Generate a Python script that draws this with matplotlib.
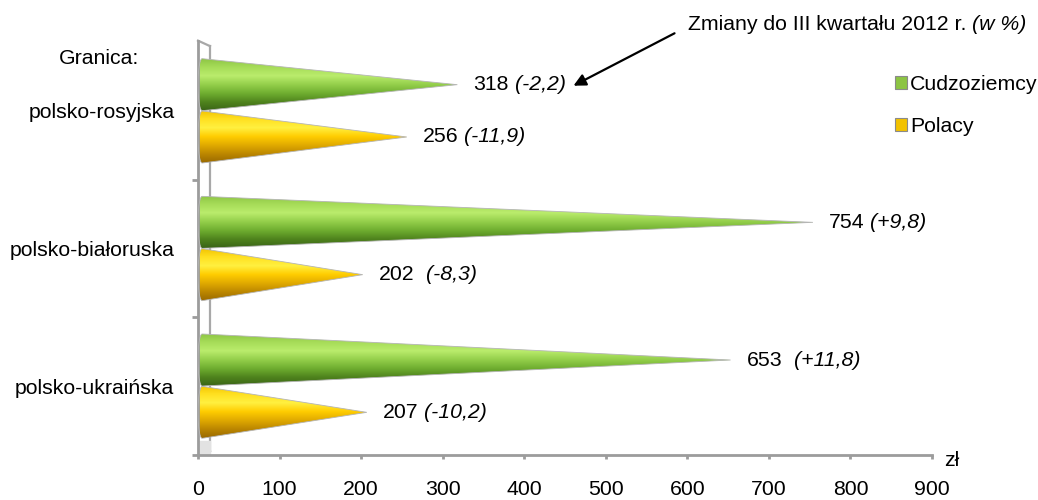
import numpy as np
import matplotlib
matplotlib.use('Agg')
import matplotlib.pyplot as plt
from matplotlib.path import Path
from matplotlib.patches import PathPatch, Patch
from matplotlib.colors import to_rgb

plt.rcParams['font.family'] = ['Liberation Sans', 'DejaVu Sans']

# dane
granice = ['polsko-ukraińska', 'polsko-białoruska', 'polsko-rosyjska']
cudzoziemcy = [653, 754, 318]
polacy = [207, 202, 256]
zmiany_cudz = ['(+11,8)', '(+9,8)', '(-2,2)']
zmiany_pol = ['(-10,2)', '(-8,3)', '(-11,9)']
odstep_cudz = [2, 1, 1]
odstep_pol = [1, 2, 1]
x_ticks = [0, 100, 200, 300, 400, 500, 600, 700, 800, 900]

GREEN = ['#3a6417', '#4f831d', '#6fae30', '#94cf4b', '#baec6c', '#a6dc58', '#8cc443']
YELLOW = ['#9a6a00', '#bb8600', '#e0aa00', '#ffcc00', '#fff040', '#ffe020', '#f2c200']

FS = 15.3
W, H = 1038, 500

fig = plt.figure(figsize=(W / 100, H / 100), dpi=100)
ax = fig.add_axes([198 / W, 1 - 455 / H, (932 - 198) / W, (455 - 42) / H])
ax.set_xlim(0, 900)
ax.set_ylim(-0.5, 2.5)

bh = 0.378
off = 0.19
r = 5.0


def stozek(val, c, colors):
    # trojkat z zaokraglona podstawa
    t = np.linspace(np.pi / 2, 3 * np.pi / 2, 20)
    arc_x = r + r * np.cos(t)
    arc_y = c + bh / 2 * np.sin(t)
    verts = [(val, c)] + list(zip(arc_x, arc_y)) + [(val, c)]
    codes = [Path.MOVETO] + [Path.LINETO] * (len(verts) - 2) + [Path.CLOSEPOLY]
    path = Path(verts, codes)
    patch = PathPatch(path, facecolor='none', edgecolor='#b5b5b5', lw=0.6, zorder=3)
    ax.add_patch(patch)
    cols = np.array([to_rgb(cc) for cc in colors])
    n = 100
    pos = np.linspace(0, 1, len(cols))
    yy = np.linspace(0, 1, n)
    grad = np.stack([np.interp(yy, pos, cols[:, k]) for k in range(3)], axis=-1)
    img = ax.imshow(grad[:, None, :], extent=(0, val, c - bh / 2, c + bh / 2),
                    origin='lower', aspect='auto', interpolation='bilinear', zorder=2)
    img.set_clip_path(patch)


def etykieta(val, c, num, zm, sp):
    t1 = ax.annotate(num, xy=(val, c), xytext=(11.5, 0), textcoords='offset points',
                     ha='left', va='center', fontsize=FS, zorder=5)
    ax.annotate(zm, xy=(1, 0), xycoords=t1, xytext=(4.2 * sp, 0), textcoords='offset points',
                ha='left', va='bottom', fontsize=FS, style='italic', zorder=5)


for i in range(len(granice)):
    stozek(cudzoziemcy[i], i + off, GREEN)
    stozek(polacy[i], i - off, YELLOW)
    etykieta(cudzoziemcy[i], i + off, str(cudzoziemcy[i]), zmiany_cudz[i], odstep_cudz[i])
    etykieta(polacy[i], i - off, str(polacy[i]), zmiany_pol[i], odstep_pol[i])

ax.set_xlim(0, 900)
ax.set_ylim(-0.5, 2.5)

# sciana 3D
wx = 12 * 900 / 734
ax.plot([wx, wx], [-0.47, 2.47], color='#a8a8a8', lw=1.6, zorder=1, clip_on=False)
ax.plot([0, wx], [2.51, 2.47], color='#a8a8a8', lw=1.6, zorder=1, clip_on=False)
ax.plot([0, wx], [-0.5, -0.47], color='#a8a8a8', lw=1.6, zorder=1, clip_on=False)
ax.fill_between([0, wx], [-0.5, -0.5], [-0.4, -0.4], color='#e2e2e2', zorder=1)

for s in ['top', 'right']:
    ax.spines[s].set_visible(False)
for s in ['left', 'bottom']:
    ax.spines[s].set_color('#9c9c9c')
    ax.spines[s].set_linewidth(2)
ax.spines['left'].set_bounds(-0.5, 2.51)

ax.set_xticks(x_ticks)
ax.set_xticklabels([str(v) for v in x_ticks], fontsize=FS)
ax.tick_params(axis='x', direction='out', length=3, width=2, color='#9c9c9c', pad=15)
ax.set_yticks([0, 1, 2])
ax.set_yticklabels(granice, fontsize=FS)
ax.tick_params(axis='y', which='major', length=0, pad=17)
ax.set_yticks([-0.5, 0.5, 1.5], minor=True)
ax.tick_params(axis='y', which='minor', direction='out', length=4.5, width=2, color='#9c9c9c')

ax.annotate('zł', xy=(1, 0), xycoords='axes fraction', xytext=(9, -4), textcoords='offset points',
            ha='left', va='center', fontsize=FS)

fig.text(99 / W, 1 - 58 / H, 'Granica:', ha='center', va='center', fontsize=FS)

# opis zmian ze strzalka
t = fig.text(688 / W, 1 - 25 / H, 'Zmiany do III kwartału 2012 r. ', ha='left', va='center', fontsize=FS)
ax.annotate('(w %)', xy=(1, 0), xycoords=t, ha='left', va='bottom', fontsize=FS, style='italic',
            annotation_clip=False)
ax.annotate('', xy=(571, H - 87), xycoords='figure pixels', xytext=(677, H - 32),
            textcoords='figure pixels',
            arrowprops=dict(arrowstyle='-|>', color='black', lw=1.6, mutation_scale=18))

handles = [Patch(facecolor='#8cc443', edgecolor='#8a8a8a', lw=0.8),
           Patch(facecolor='#f2c200', edgecolor='#8a8a8a', lw=0.8)]
fig.legend(handles, ['Cudzoziemcy', 'Polacy'], loc='upper left',
           bbox_to_anchor=(895 / W, 1 - 75 / H), frameon=False, fontsize=FS,
           handlelength=0.55, handleheight=0.55, handletextpad=0.15, labelspacing=1.1,
           borderpad=0, borderaxespad=0)

fig.savefig('out.png', dpi=100)
